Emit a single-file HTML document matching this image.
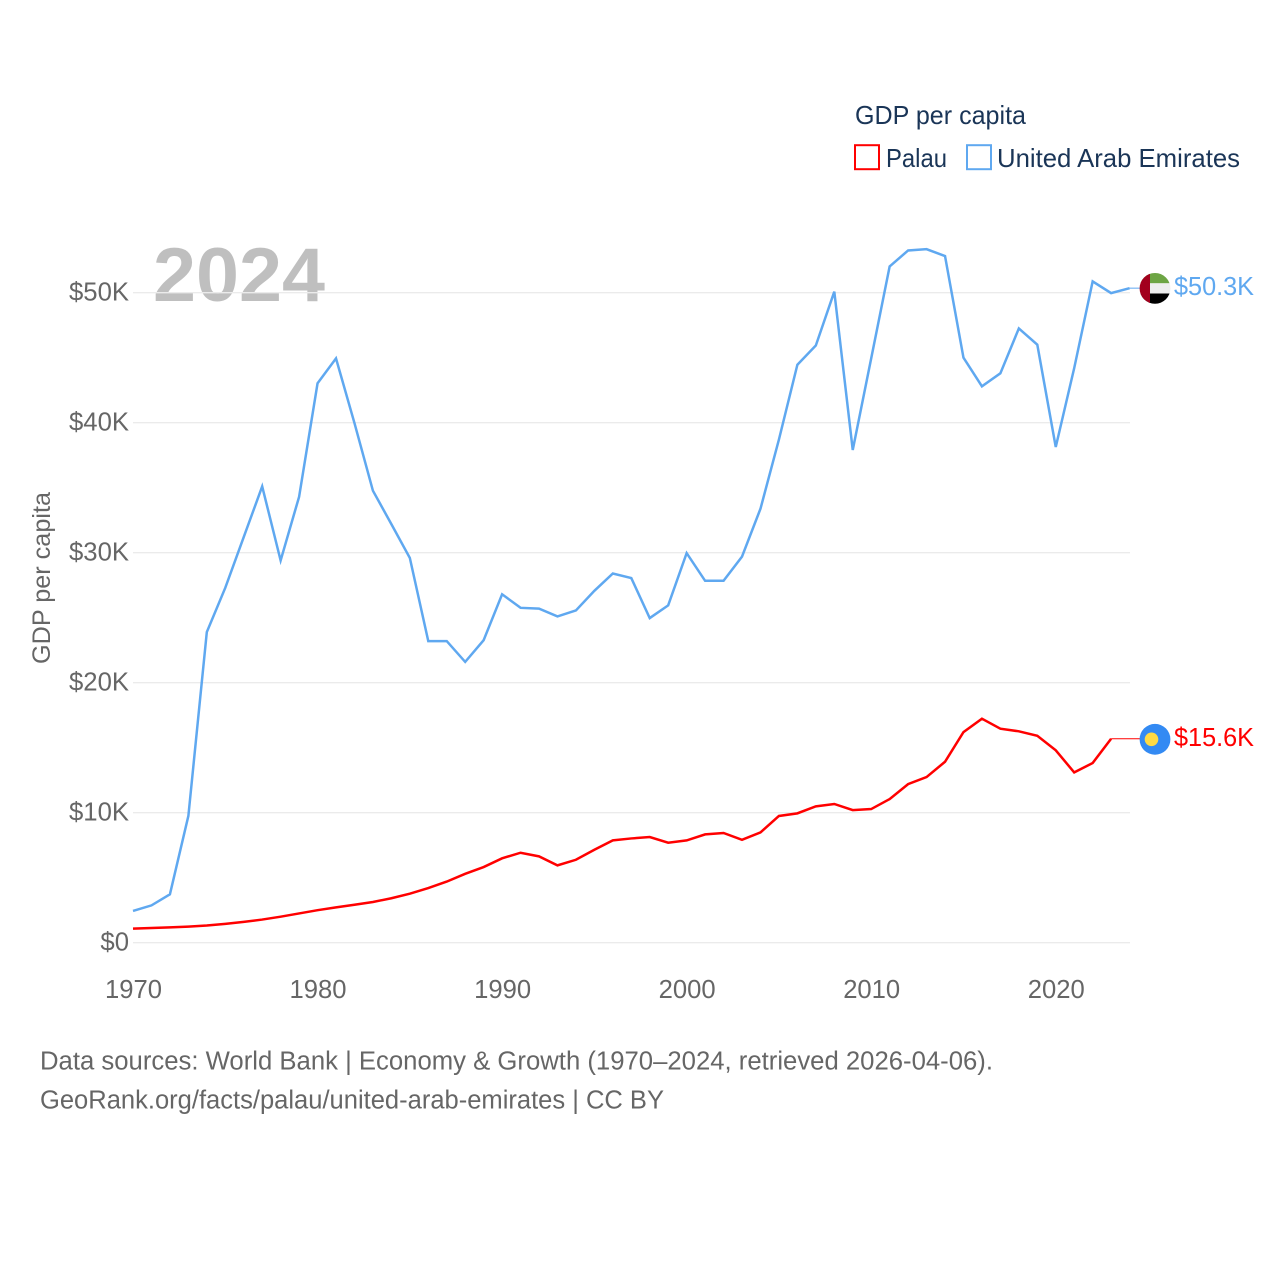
<!DOCTYPE html>
<html lang="en">
<head>
<meta charset="utf-8">
<title>GDP per capita: Palau and United Arab Emirates</title>
<style>
html,body{margin:0;padding:0;background:#fff;width:1280px;height:1280px;overflow:hidden}
svg{display:block}
text{font-family:"Liberation Sans",sans-serif}
</style>
</head>
<body>
<svg id="chart" width="1280" height="1280" viewBox="0 0 1280 1280" xmlns="http://www.w3.org/2000/svg">
  <rect x="0" y="0" width="1280" height="1280" fill="#fff"/>
  <text x="153" y="301" font-size="76" font-weight="700" fill="#000" fill-opacity="0.25" textLength="172" lengthAdjust="spacingAndGlyphs">2024</text>
  <g id="grid"></g>
  <g id="yticks"></g>
  <g id="xticks"></g>
  <text transform="translate(50,664) rotate(-90)" font-size="25" fill="#666" textLength="172" lengthAdjust="spacingAndGlyphs">GDP per capita</text>
  <g id="series"></g>

  <g>
    <clipPath id="uae-clip"><circle cx="1155" cy="288.4" r="15.4"/></clipPath>
    <g clip-path="url(#uae-clip)">
      <rect x="1139" y="272" width="32" height="11.3" fill="#6da544"/>
      <rect x="1139" y="283.3" width="32" height="10.2" fill="#eeeeee"/>
      <rect x="1139" y="293.5" width="32" height="12" fill="#000"/>
      <rect x="1139" y="272" width="11" height="34" fill="#a2001d"/>
    </g>
  </g>
  <text x="1174" y="295" font-size="26" fill="#5fa8f0" textLength="80" lengthAdjust="spacingAndGlyphs">$50.3K</text>

  <g>
    <circle cx="1155" cy="739.3" r="15.4" fill="#338af3"/>
    <circle cx="1151.5" cy="739.3" r="6.8" fill="#ffda44"/>
  </g>
  <text x="1174" y="746" font-size="26" fill="#ff0000" textLength="80" lengthAdjust="spacingAndGlyphs">$15.6K</text>

  <g>
    <text x="855" y="124" font-size="26" fill="#1a3557" textLength="171" lengthAdjust="spacingAndGlyphs">GDP per capita</text>
    <g>
      <rect x="855" y="145.2" width="24" height="24" fill="#fff" stroke="#ff0000" stroke-width="2"/>
      <text x="886" y="167" font-size="26" fill="#1a3557" textLength="61" lengthAdjust="spacingAndGlyphs">Palau</text>
    </g>
    <g>
      <rect x="967" y="145.2" width="24" height="24" fill="#fff" stroke="#5fa8f0" stroke-width="2"/>
      <text x="997" y="167" font-size="26" fill="#1a3557" textLength="243" lengthAdjust="spacingAndGlyphs">United Arab Emirates</text>
    </g>
  </g>

  <text x="40" y="1069.5" font-size="25.5" fill="#666" textLength="953" lengthAdjust="spacingAndGlyphs">Data sources: World Bank | Economy &amp; Growth (1970–2024, retrieved 2026-04-06).</text>
  <text x="40" y="1108.5" font-size="25.5" fill="#666" textLength="624" lengthAdjust="spacingAndGlyphs">GeoRank.org/facts/palau/united-arab-emirates | CC BY</text>
</svg>
<script>
const startYear = 1970;
const xTickYears = [1970, 1980, 1990, 2000, 2010, 2020];
const yTickValues = [0, 10, 20, 30, 40, 50];
const yTickLabels = ["$0", "$10K", "$20K", "$30K", "$40K", "$50K"];
const uaeValues = [2.44, 2.87, 3.72, 9.75, 23.9, 27.3, 31.2, 35.1, 29.4, 34.3, 43.03, 44.95, 39.97, 34.77, 32.2, 29.6, 23.2, 23.2, 21.6, 23.27, 26.8, 25.76, 25.7, 25.1, 25.56, 27.07, 28.4, 28.05, 24.97, 25.95, 29.97, 27.84, 27.84, 29.7, 33.38, 38.7, 44.46, 45.94, 50.08, 37.9, 44.95, 52.02, 53.25, 53.35, 52.82, 45, 42.8, 43.8, 47.25, 46, 38.13, 44.2, 50.87, 49.97, 50.35];
const palauValues = [1.08, 1.13, 1.18, 1.24, 1.32, 1.45, 1.6, 1.78, 2, 2.25, 2.5, 2.72, 2.92, 3.13, 3.42, 3.77, 4.2, 4.7, 5.3, 5.82, 6.49, 6.92, 6.64, 5.95, 6.38, 7.15, 7.87, 8.02, 8.13, 7.69, 7.87, 8.33, 8.44, 7.92, 8.48, 9.75, 9.95, 10.49, 10.67, 10.2, 10.28, 11.05, 12.2, 12.74, 13.92, 16.2, 17.23, 16.46, 16.26, 15.92, 14.8, 13.1, 13.82, 15.69];

const NS = "http://www.w3.org/2000/svg";
const plotLeft = 133, plotRight = 1130, yearWidth = 18.455, zeroY = 942.7, unitY = 13.0;
const xScale = function (year) { return plotLeft + (year - startYear) * yearWidth; };
const yScale = function (value) { return zeroY - value * unitY; };
const make = function (tag, parent) {
  const el = document.createElementNS(NS, tag);
  parent.appendChild(el);
  return el;
};

const gridGroup = document.getElementById("grid");
const yTickGroup = document.getElementById("yticks");
yTickValues.forEach(function (value, i) {
  const line = make("line", gridGroup);
  
  
  line.setAttribute("x1", plotLeft);
  line.setAttribute("x2", plotRight);
  line.setAttribute("y1", yScale(value));
  line.setAttribute("y2", yScale(value));
  line.setAttribute("stroke", "#ebebeb");
  line.setAttribute("stroke-width", "1.4");

  const label = make("text", yTickGroup);
  
  
  label.setAttribute("x", 129);
  label.setAttribute("y", yScale(value) + 8);
  label.setAttribute("text-anchor", "end");
  label.setAttribute("font-size", "25.7");
  label.setAttribute("fill", "#666");
  label.textContent = yTickLabels[i];
});

const xTickGroup = document.getElementById("xticks");
xTickYears.forEach(function (year) {
  const label = make("text", xTickGroup);
  
  
  label.setAttribute("x", xScale(year) + 0.5);
  label.setAttribute("y", 998);
  label.setAttribute("text-anchor", "middle");
  label.setAttribute("font-size", "26");
  label.setAttribute("fill", "#666");
  label.setAttribute("textLength", "57");
  label.setAttribute("lengthAdjust", "spacingAndGlyphs");
  label.textContent = year;
});

const seriesGroup = document.getElementById("series");
const pointsFor = function (values) {
  return values.map(function (value, i) {
    return xScale(startYear + i).toFixed(2) + "," + yScale(value).toFixed(2);
  }).join(" ");
};
const lastY = function (values) { return yScale(values[values.length - 1]); };
const lastX = function (values) { return xScale(startYear + values.length - 1); };

const uaeLine = make("polyline", seriesGroup);


uaeLine.setAttribute("points", pointsFor(uaeValues));
uaeLine.setAttribute("fill", "none");
uaeLine.setAttribute("stroke", "#5fa8f0");
uaeLine.setAttribute("stroke-width", "2.5");
uaeLine.setAttribute("stroke-linejoin", "miter");

const palauLine = make("polyline", seriesGroup);


palauLine.setAttribute("points", pointsFor(palauValues));
palauLine.setAttribute("fill", "none");
palauLine.setAttribute("stroke", "#ff0000");
palauLine.setAttribute("stroke-width", "2.5");
palauLine.setAttribute("stroke-linejoin", "miter");

const uaeConnector = make("line", seriesGroup);


uaeConnector.setAttribute("x1", lastX(uaeValues));
uaeConnector.setAttribute("y1", lastY(uaeValues));
uaeConnector.setAttribute("x2", 1140);
uaeConnector.setAttribute("y2", lastY(uaeValues));
uaeConnector.setAttribute("stroke", "#5fa8f0");
uaeConnector.setAttribute("stroke-width", "1");

const palauConnector = make("line", seriesGroup);


palauConnector.setAttribute("x1", lastX(palauValues));
palauConnector.setAttribute("y1", lastY(palauValues));
palauConnector.setAttribute("x2", 1140);
palauConnector.setAttribute("y2", lastY(palauValues));
palauConnector.setAttribute("stroke", "#ff0000");
palauConnector.setAttribute("stroke-width", "1");
</script>
</body>
</html>
